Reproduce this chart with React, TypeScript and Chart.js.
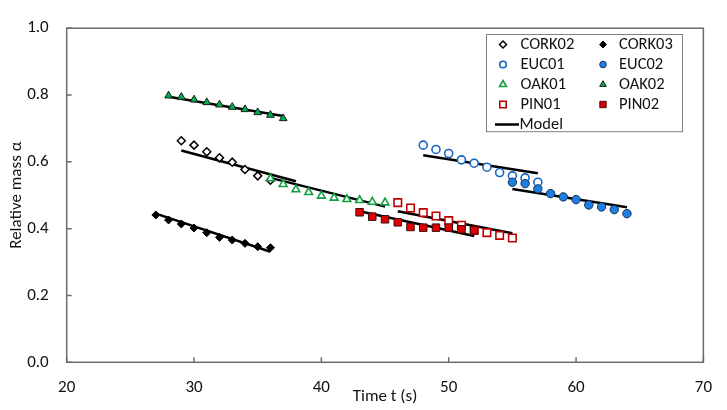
import { useEffect, useRef } from "react";
import { Chart, registerables, Plugin } from "chart.js";
import { drawPoint } from "chart.js/helpers";

Chart.register(...registerables);

const FONT = "Carlito, Lato, 'Noto Sans', sans-serif";
const AXIS_COLOR = "#6b6b6b";

// measured relative mass vs time (s)
const cork02Time = [29, 30, 31, 32, 33, 34, 35, 36];
const cork02Mass = [0.663, 0.65, 0.63, 0.612, 0.599, 0.577, 0.558, 0.545];
const cork03Time = [27, 28, 29, 30, 31, 32, 33, 34, 35, 36];
const cork03Mass = [0.441, 0.426, 0.414, 0.402, 0.388, 0.374, 0.366, 0.356, 0.346, 0.343];
const euc01Time = [48, 49, 50, 51, 52, 53, 54, 55, 56, 57];
const euc01Mass = [0.65, 0.637, 0.625, 0.606, 0.596, 0.584, 0.568, 0.558, 0.552, 0.539];
const euc02Time = [55, 56, 57, 58, 59, 60, 61, 62, 63, 64];
const euc02Mass = [0.539, 0.535, 0.519, 0.505, 0.495, 0.487, 0.471, 0.465, 0.457, 0.445];
const oak01Time = [36, 37, 38, 39, 40, 41, 42, 43, 44, 45];
const oak01Mass = [0.55, 0.533, 0.517, 0.509, 0.498, 0.492, 0.488, 0.485, 0.48, 0.478];
const oak02Time = [28, 29, 30, 31, 32, 33, 34, 35, 36, 37];
const oak02Mass = [0.798, 0.794, 0.786, 0.778, 0.771, 0.764, 0.757, 0.748, 0.74, 0.73];
const pin01Time = [46, 47, 48, 49, 50, 51, 52, 53, 54, 55];
const pin01Mass = [0.478, 0.462, 0.448, 0.438, 0.424, 0.41, 0.395, 0.388, 0.38, 0.372];
const pin02Time = [43, 44, 45, 46, 47, 48, 49, 50, 51, 52];
const pin02Mass = [0.449, 0.436, 0.428, 0.419, 0.405, 0.403, 0.403, 0.403, 0.398, 0.395];

// model fits: start/end time and mass
const modelTimes = [
  [29, 38], [27, 36], [48, 57], [55, 64],
  [36, 45], [28, 37], [46, 55], [43, 52],
];
const modelMasses = [
  [0.634, 0.542], [0.445, 0.331], [0.62, 0.566], [0.519, 0.464],
  [0.552, 0.466], [0.795, 0.737], [0.452, 0.386], [0.452, 0.378],
];

const xTicks = [20, 30, 40, 50, 60, 70];
const yTicks = [0, 0.2, 0.4, 0.6, 0.8, 1.0];

const series = [
  { label: "CORK02", t: cork02Time, m: cork02Mass, shape: "rectRot", fill: "#ffffff", stroke: "#000000", r: 4, bw: 1.5, lr: 3.5 },
  { label: "CORK03", t: cork03Time, m: cork03Mass, shape: "rectRot", fill: "#000000", stroke: "#000000", r: 4, bw: 1, lr: 3.5 },
  { label: "EUC01", t: euc01Time, m: euc01Mass, shape: "circle", fill: "#ffffff", stroke: "#1565c0", r: 4, bw: 1.6, lr: 3.3 },
  { label: "EUC02", t: euc02Time, m: euc02Mass, shape: "circle", fill: "#1f7fe0", stroke: "#10305a", r: 4.2, bw: 1, lr: 3.3 },
  { label: "OAK01", t: oak01Time, m: oak01Mass, shape: "triangle", fill: "#ffffff", stroke: "#13a040", r: 4.5, bw: 1.6, lr: 4 },
  { label: "OAK02", t: oak02Time, m: oak02Mass, shape: "triangle", fill: "#00b050", stroke: "#1a1a1a", r: 4.5, bw: 1, lr: 3.8 },
  { label: "PIN01", t: pin01Time, m: pin01Mass, shape: "rect", fill: "#ffffff", stroke: "#c00000", r: 5.3, bw: 1.6, lr: 4.5 },
  { label: "PIN02", t: pin02Time, m: pin02Mass, shape: "rect", fill: "#e00000", stroke: "#3a1010", r: 5.3, bw: 1, lr: 4.5 },
];

const framePlugin: Plugin<"scatter"> = {
  id: "frame",
  afterDraw(chart) {
    const { ctx, chartArea: a, scales } = chart;
    ctx.save();
    ctx.strokeStyle = AXIS_COLOR;
    ctx.lineWidth = 1.5;
    ctx.strokeRect(a.left, a.top, a.right - a.left, a.bottom - a.top);
    ctx.beginPath();
    for (const v of xTicks) {
      const px = scales.x.getPixelForValue(v);
      ctx.moveTo(px, a.bottom);
      ctx.lineTo(px, a.bottom - 5);
    }
    for (const v of yTicks) {
      const py = scales.y.getPixelForValue(v);
      ctx.moveTo(a.left, py);
      ctx.lineTo(a.left + 5, py);
    }
    ctx.stroke();
    ctx.restore();
  },
};

const legendPlugin: Plugin<"scatter"> = {
  id: "boxLegend",
  afterDraw(chart) {
    const { ctx } = chart;
    ctx.save();
    ctx.fillStyle = "#ffffff";
    ctx.fillRect(486, 34, 196, 97.7);
    ctx.strokeStyle = "#808080";
    ctx.lineWidth = 1;
    ctx.strokeRect(486.5, 34.5, 196, 97.2);
    ctx.font = `16.5px ${FONT}`;
    ctx.textBaseline = "middle";
    series.forEach((s, i) => {
      const col = i % 2;
      const row = Math.floor(i / 2);
      const mx = col === 0 ? 503 : 603;
      const tx = col === 0 ? 520.5 : 619;
      const y = 44.5 + row * 20;
      ctx.fillStyle = s.fill;
      ctx.strokeStyle = s.stroke;
      ctx.lineWidth = s.bw;
      drawPoint(ctx, { pointStyle: s.shape as any, radius: s.lr, rotation: 0, borderWidth: s.bw }, mx, y);
      ctx.fillStyle = "#111111";
      ctx.fillText(s.label, tx, y);
    });
    const my = 124.5;
    ctx.strokeStyle = "#000000";
    ctx.lineWidth = 2.5;
    ctx.beginPath();
    ctx.moveTo(495, my);
    ctx.lineTo(519, my);
    ctx.stroke();
    ctx.fillStyle = "#111111";
    ctx.fillText("Model", 519.5, my);
    ctx.restore();
  },
};

function App() {
  const canvasRef = useRef<HTMLCanvasElement>(null);

  useEffect(() => {
    if (!canvasRef.current) return;
    const n = series.length;
    const markerSets = series.map((s, i) => ({
      type: "scatter" as const,
      label: s.label,
      data: s.t.map((x, k) => ({ x, y: s.m[k] })),
      pointStyle: s.shape as any,
      pointRadius: s.r,
      pointBackgroundColor: s.fill,
      pointBorderColor: s.stroke,
      pointBorderWidth: s.bw,
      showLine: false,
      order: n - i,
    }));
    const modelSets = modelTimes.map((tt, i) => ({
      type: "scatter" as const,
      label: "Model",
      data: tt.map((x, k) => ({ x, y: modelMasses[i][k] })),
      showLine: true,
      borderColor: "#000000",
      borderWidth: 2.5,
      pointRadius: 0,
      order: 100,
    }));

    const chart = new Chart(canvasRef.current, {
      type: "scatter",
      data: { datasets: [...markerSets, ...modelSets] },
      options: {
        animation: false,
        responsive: false,
        layout: { padding: { top: 11, right: 17, left: 0, bottom: 0 } },
        plugins: {
          legend: { display: false },
          tooltip: { enabled: false },
        },
        scales: {
          x: {
            type: "linear",
            min: 20,
            max: 70,
            afterBuildTicks: (s) => {
              s.ticks = xTicks.map((value) => ({ value }));
            },
            afterFit: (s) => {
              s.height = 47.7;
            },
            grid: { display: false, drawTicks: false, tickLength: 0 },
            border: { display: false },
            ticks: {
              padding: 15,
              color: "#111111",
              font: { family: FONT, size: 17 },
            },
            title: {
              display: true,
              text: "Time t (s)",
              color: "#111111",
              font: { family: FONT, size: 17 },
              padding: { top: 0, bottom: 2.8 },
            },
          },
          y: {
            type: "linear",
            min: 0,
            max: 1,
            afterBuildTicks: (s) => {
              s.ticks = yTicks.map((value) => ({ value }));
            },
            afterFit: (s) => {
              s.width = 66.7;
            },
            grid: { display: false, drawTicks: false, tickLength: 0 },
            border: { display: false },
            ticks: {
              padding: 18,
              color: "#111111",
              font: { family: FONT, size: 17 },
              callback: (v) => Number(v).toFixed(1),
            },
            title: {
              display: true,
              text: "Relative mass α",
              color: "#111111",
              font: { family: FONT, size: 17 },
              padding: { top: 6.8, bottom: 0 },
            },
          },
        },
      },
      plugins: [framePlugin, legendPlugin],
    });

    return () => {
      chart.destroy();
    };
  }, []);

  return (
    <div style={{ position: "fixed", left: 0, top: 0, width: 727, height: 410, background: "#ffffff" }}>
      <canvas ref={canvasRef} width={727} height={410} style={{ display: "block" }} />
    </div>
  );
}

export default App;
